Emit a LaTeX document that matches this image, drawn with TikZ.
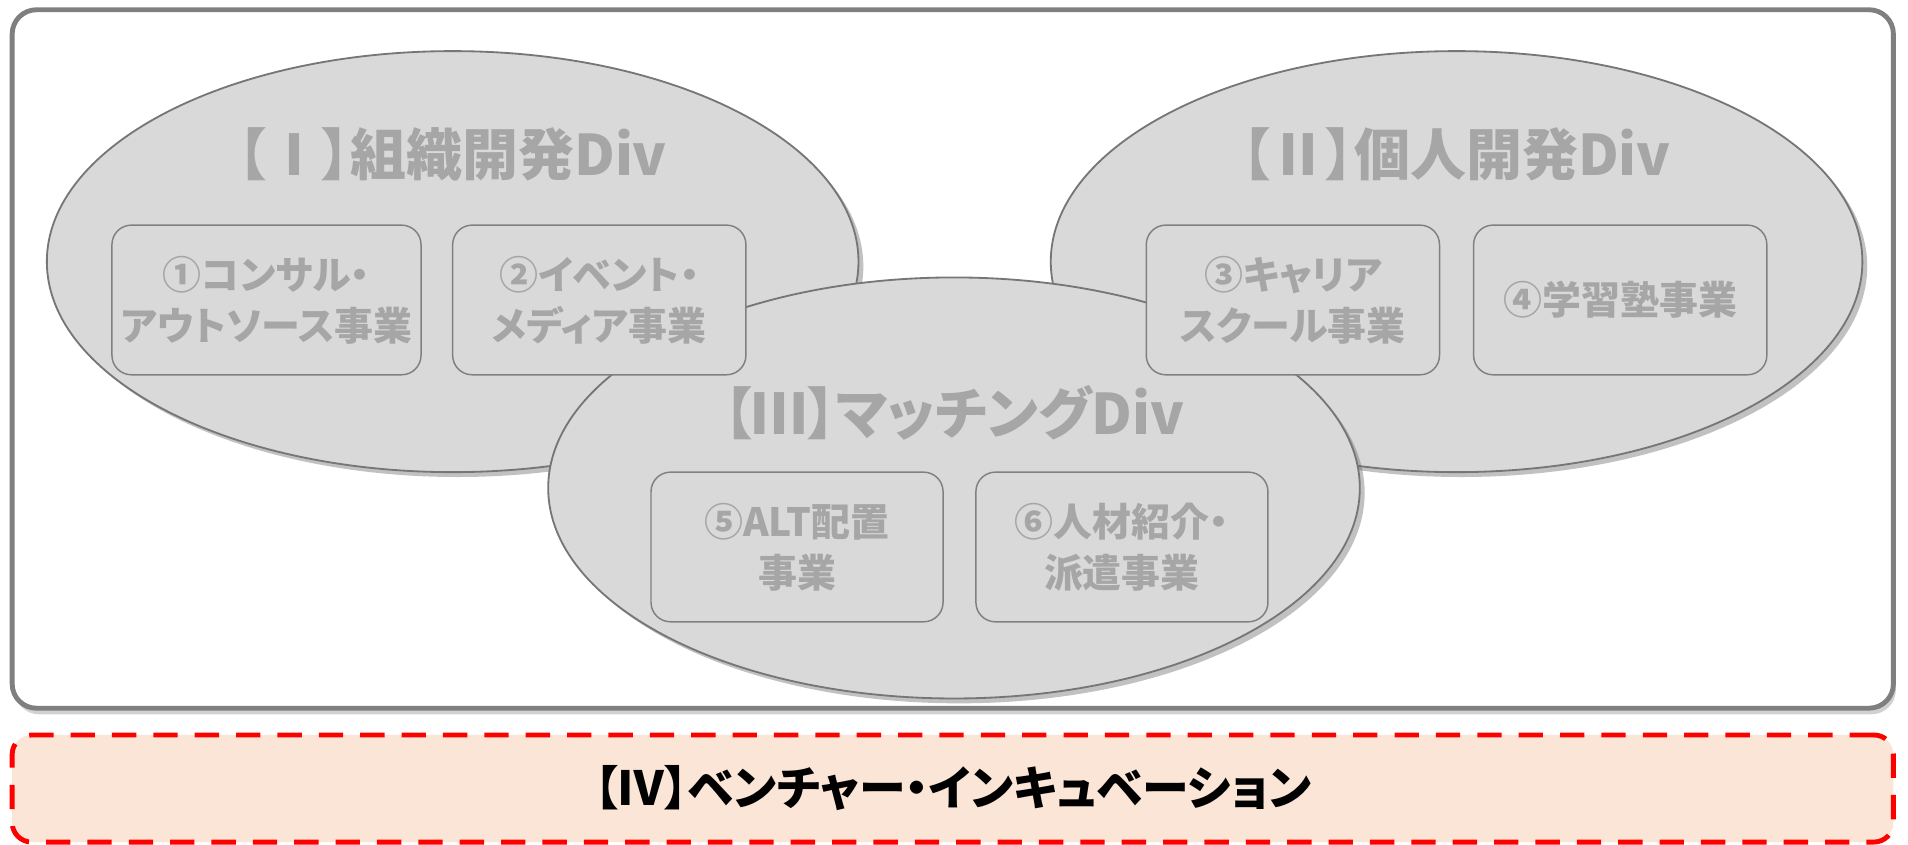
\documentclass[tikz,border=0pt]{standalone}
\usepackage{fontspec}
\setmainfont{Noto Sans CJK JP}
\newfontfamily\jpp{Noto Sans CJK JP}[RawFeature=+palt]
\usetikzlibrary{shapes.geometric,shadows}
\definecolor{framegray}{HTML}{7F7F7F}
\definecolor{ellfill}{HTML}{D9D9D9}
\definecolor{ellline}{HTML}{767676}
\definecolor{boxline}{HTML}{808080}
\definecolor{txtgray}{HTML}{A6A6A6}
\definecolor{ventfill}{HTML}{FBE5D6}
\tikzset{
  frame/.style={draw=framegray, line width=4pt, fill=white, rounded corners=20pt,
    drop shadow={shadow xshift=2pt, shadow yshift=-5pt, opacity=.3, fill=black!60}},
  divell/.style={ellipse, draw=ellline, line width=1.5pt, fill=ellfill, inner sep=0pt,
    minimum width=667pt, minimum height=346pt,
    drop shadow={shadow xshift=4pt, shadow yshift=-4pt, opacity=.4, fill=black!60}},
  biz/.style={rectangle, rounded corners=16pt, draw=boxline, line width=1.2pt, fill=ellfill,
    minimum height=123pt, align=center, inner sep=0pt,
    font=\jpp\bfseries\fontsize{32}{42}\selectfont, text=txtgray},
  divtitle/.style={font=\jpp\bfseries\fontsize{46}{50}\selectfont, text=txtgray, inner sep=0pt},
  venture/.style={draw=red, line width=4pt, dash pattern=on 20pt off 14pt, fill=ventfill,
    rounded corners=16pt, minimum width=1546pt, minimum height=88pt,
    font=\jpp\bfseries\fontsize{38.5}{44}\selectfont, text=black}
}
\begin{document}
\begin{tikzpicture}[x=1pt,y=-1pt]
\useasboundingbox (0,0) rectangle (1568,694);
\node[frame, minimum width=1546pt, minimum height=574pt] (frame) at (783,295) {};
\node[divell] (d1) at (372,215) {};
\node[divell] (d2) at (1197,215) {};
\node[divell] (d3) at (784,401) {};
\node[divtitle] (t1) at (372,127) {【Ⅰ】組織開発Div};
\node[divtitle] (t2) at (1197,127) {【Ⅱ】個人開発Div};
\node[divtitle] (t3) at (784,339) {【Ⅲ】マッチングDiv};
\node[biz, minimum width=254pt] (b1) at (219,246.5) {①コンサル・\\アウトソース事業};
\node[biz, minimum width=241pt] (b2) at (492.5,246.5) {②イベント・\\メディア事業};
\node[biz, minimum width=241pt] (b3) at (1062.5,246.5) {③キャリア\\スクール事業};
\node[biz, minimum width=241pt] (b4) at (1331.5,246.5) {④学習塾事業};
\node[biz, minimum width=240pt] (b5) at (655,449.5) {⑤ALT配置\\事業};
\node[biz, minimum width=240pt] (b6) at (922,449.5) {⑥人材紹介・\\派遣事業};
\node[venture] (v) at (783,648) {【Ⅳ】ベンチャー・インキュベーション};
\end{tikzpicture}
\end{document}
